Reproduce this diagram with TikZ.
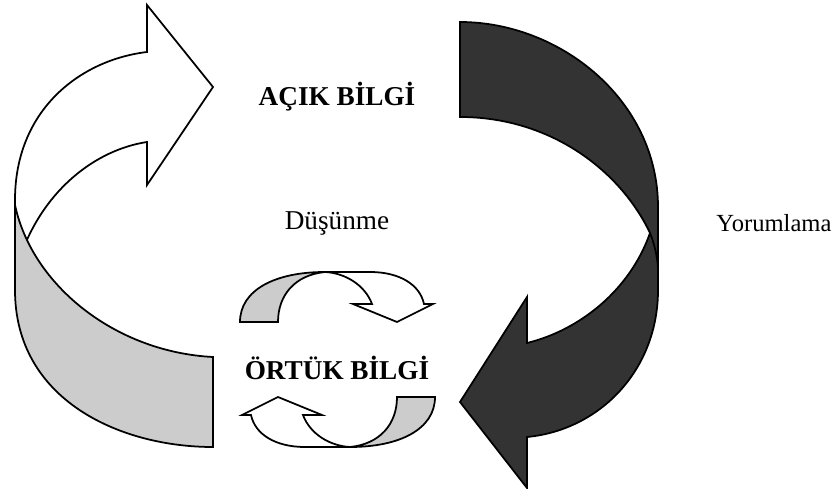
\documentclass[tikz,border=0pt]{standalone}
\usepackage{fontspec}
\setmainfont{Liberation Serif}
\definecolor{ribbongrey}{RGB}{204,204,204}
\definecolor{ribbondark}{RGB}{51,51,51}
\tikzset{
  ribbon/.style={draw=black, line width=1pt, line join=miter},
  kind/.style={font=\fontsize{15.5}{18}\selectfont\bfseries},
  step label/.style={font=\fontsize{15.5}{18}\selectfont}
}
% small twisted loop arrow, drawn around (0,0)
\newcommand{\twistarrow}{%
  \filldraw[ribbon, fill=white] (-12,-25) -- (33,-25) .. controls (63,-25) and (83,-12) .. (87,7)
    -- (96,7) -- (60,25) -- (16,7) -- (35,7) .. controls (28,-12) and (8,-24) .. (-12,-25) -- cycle;
  \filldraw[ribbon, fill=ribbongrey] (-97,25) .. controls (-97,-7) and (-62,-25) .. (-12,-25)
    .. controls (-42,-22) and (-59,-2) .. (-59,25) -- cycle;
}
\begin{document}
\begin{tikzpicture}[x=0.02cm, y=-0.02cm]
\useasboundingbox (0,0) rectangle (838,489);

% left arrow: white front, grey back
\filldraw[ribbon, fill=white] (147,52) -- (147,5) -- (213,87) -- (147,185) -- (147,142)
  .. controls (95,150) and (45,190) .. (22,252) -- (15,260) -- (15,200)
  .. controls (15,110) and (80,60) .. (147,52) -- cycle;
\filldraw[ribbon, fill=ribbongrey] (15,205) -- (15,290) .. controls (15,400) and (120,447) .. (213,447)
  -- (213,357) .. controls (115,352) and (32,285) .. (15,205) -- cycle;

% right arrow, dark
\filldraw[ribbon, fill=ribbondark] (460,22) .. controls (560,22) and (658,100) .. (658,207)
  -- (658,290) .. controls (658,370) and (600,430) .. (527,437)
  -- (527,488) -- (460,402) -- (527,297) -- (527,343)
  .. controls (580,330) and (630,290) .. (650,233)
  .. controls (620,170) and (550,117) .. (460,117) -- cycle;
\draw[ribbon] (650,233) .. controls (654,243) and (657,255) .. (658,267);

% small arrows
\begin{scope}[shift={(337,297)}]
  \twistarrow
\end{scope}
\begin{scope}[shift={(338,422)}, rotate=180]
  \twistarrow
\end{scope}

\node[kind] (explicit) at (337,97) {AÇIK BİLGİ};
\node[kind] (tacit) at (337,368) {ÖRTÜK BİLGİ};
\node[step label] (thinking) at (337,223) {Düşünme};
\node[font=\fontsize{14}{17}\selectfont] (interpret) at (774,223) {Yorumlama};
\end{tikzpicture}
\end{document}
